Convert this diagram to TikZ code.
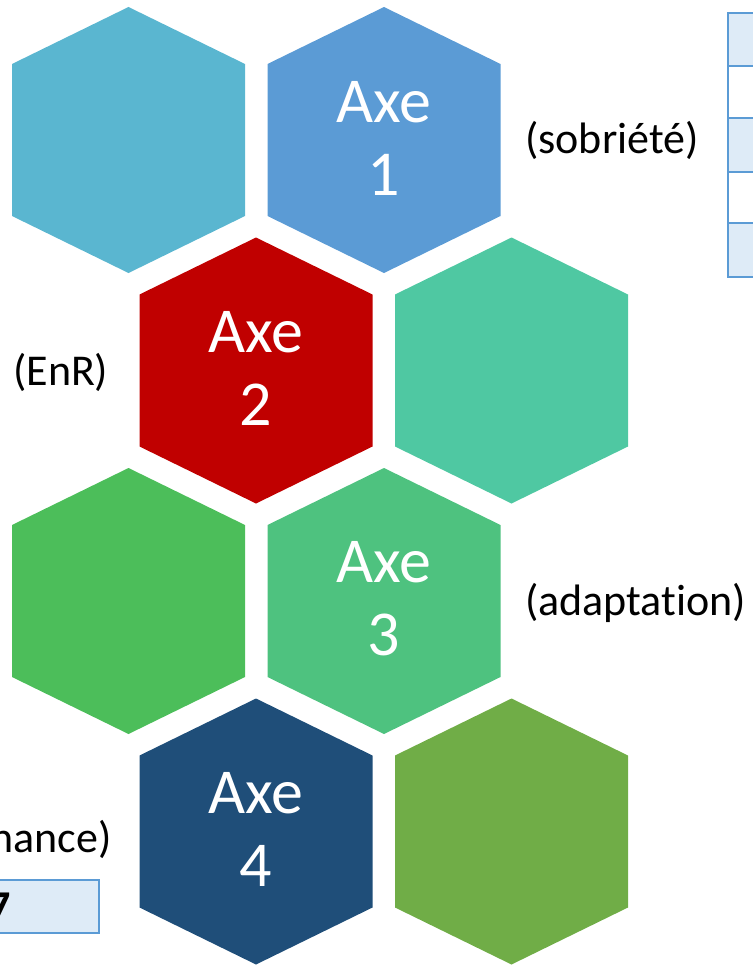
\documentclass[tikz,border=0pt]{standalone}
\usepackage{fontspec}
\setmainfont{Carlito}[Ligatures={NoCommon}]
\definecolor{hexA}{HTML}{5AB6D0}
\definecolor{hexB}{HTML}{5B9BD5}
\definecolor{hexC}{HTML}{C00000}
\definecolor{hexD}{HTML}{4FC8A2}
\definecolor{hexE}{HTML}{4CBE5A}
\definecolor{hexF}{HTML}{4EC27F}
\definecolor{hexG}{HTML}{1F4E79}
\definecolor{hexH}{HTML}{70AD47}
\definecolor{tblfill}{HTML}{DEEBF7}
\definecolor{tblline}{HTML}{5B9BD5}
\newcommand\hexfill[3]{\fill[#3] (#1,#2-133) -- (#1+116.5,#2-76) -- (#1+116.5,#2+76) -- (#1,#2+133) -- (#1-116.5,#2+76) -- (#1-116.5,#2-76) -- cycle;}
\begin{document}
\begin{tikzpicture}[x=1pt,y=-1pt,
  axetxt/.style={text=white,align=center,inner sep=0pt,font=\fontsize{64}{73}\selectfont},
  lbl/.style={text=black,inner sep=0pt,font=\fontsize{44}{52}\selectfont},
  cellA/.style={fill=tblfill,draw=tblline,line width=2.5pt},
  cellB/.style={fill=white,draw=tblline,line width=2.5pt}]
\useasboundingbox (0,0) rectangle (752,966);
% hexagons
\hexfill{128.5}{140}{hexA}
\hexfill{384}{140}{hexB}
\hexfill{256}{370.5}{hexC}
\hexfill{511.5}{370.5}{hexD}
\hexfill{128.5}{601}{hexE}
\hexfill{384}{601}{hexF}
\hexfill{256}{831.5}{hexG}
\hexfill{511.5}{831.5}{hexH}
% hexagon texts
\node[axetxt] (axe1) at (384,138) {Axe\\1};
\node[axetxt] (axe2) at (256,368.5) {Axe\\2};
\node[axetxt] (axe3) at (384,599) {Axe\\3};
\node[axetxt] (axe4) at (256,829.5) {Axe\\4};
% labels
\node[lbl,anchor=base west] (sob) at (525,153) {(sobriété)};
\node[lbl,anchor=base west] (enr) at (13,385) {(EnR)};
\node[lbl,anchor=base west] (adapt) at (525,615) {(adaptation)};
\node[lbl,anchor=base east] (gouv) at (112,852) {nance)};
% table top right
\draw[cellA] (728,13) rectangle (770,66);
\draw[cellB] (728,66) rectangle (770,118);
\draw[cellA] (728,118) rectangle (770,172);
\draw[cellB] (728,172) rectangle (770,223);
\draw[cellA] (728,223) rectangle (770,277);
% bottom left box
\draw[cellA,line width=2pt] (-10,880) rectangle (99,933);
\node[lbl,anchor=base east,font=\fontsize{44}{52}\selectfont\bfseries] (seven) at (11,921) {7};
\end{tikzpicture}
\end{document}
